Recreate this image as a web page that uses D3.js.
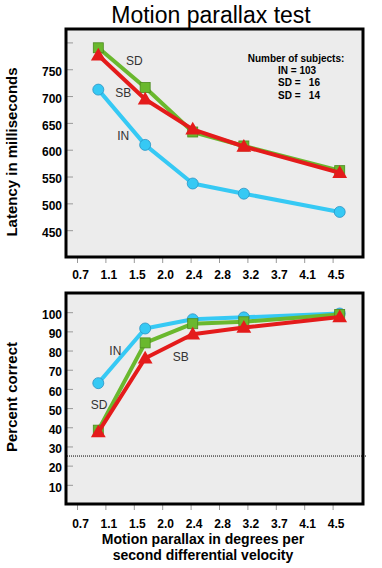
<!DOCTYPE html>
<html>
<head>
<meta charset="utf-8">
<script src="https://cdn.jsdelivr.net/npm/d3@7"></script>
<style>
  body { margin: 0; background: #fff; }
  svg { display: block; font-family: "Liberation Sans", Arial, sans-serif; }
</style>
</head>
<body>
<div id="chart"></div>
<script>
// velocity (deg/s) tick labels, evenly spaced on the axis
var velocityTicks = [0.7, 1.1, 1.5, 2.0, 2.4, 2.8, 3.2, 3.7, 4.1, 4.5];
var velocities = [1.0, 1.7, 2.43, 3.15, 4.6];

// latency in ms
var latencyIN = [712, 609, 537, 518, 484];
var latencySD = [790, 716, 633, 607, 561];
var latencySB = [776, 694, 638, 606, 557];
var latencyTicks = [450, 500, 550, 600, 650, 700, 750, 800];
var latencyLabeled = [450, 500, 550, 600, 650, 700, 750];

// percent correct
var correctIN = [63, 91.5, 96.3, 97.3, 99.3];
var correctSD = [38.5, 84, 94, 95, 98.8];
var correctSB = [37.5, 76, 88.5, 92, 97.5];
var correctTicks = [10, 20, 30, 40, 50, 60, 70, 80, 90, 100];
var chanceLevel = 25;

var subjectLines = ["IN = 103", "SD =   16", "SD =   14"];

// series label anchors, in data units [velocity, value]
var topLabels = [["SD", 1.51, 757], ["SB", 1.35, 699], ["IN", 1.35, 618]];
var bottomLabels = [["IN", 1.24, 77.7], ["SB", 2.26, 74.5], ["SD", 1.01, 49.5]];

var colors = {IN: "#36c9f4", SD: "#6ab82e", SB: "#e41b1b"};

var width = 382, height = 568;
var left = 66, right = 363;

var svg = d3.select("#chart").append("svg")
    .attr("width", width)
    .attr("height", height);

svg.append("text")
    .attr("x", 211).attr("y", 23)
    .attr("text-anchor", "middle")
    .attr("font-size", 23)
    .text("Motion parallax test");

var x = d3.scaleLinear()
    .domain(velocityTicks)
    .range(velocityTicks.map(function(d, i) { return 77 + i * 28.4; }));

function panel(top, bottom, yDomain, yTickVals, yLabeled, series, labels, pad) {
  var y = d3.scaleLinear().domain(yDomain).range([bottom, top]);
  var g = svg.append("g");

  g.append("rect")
      .attr("x", left).attr("y", top)
      .attr("width", right - left).attr("height", bottom - top)
      .attr("fill", "#ececec");

  // y axis, ticks point inward
  var yAxis = g.append("g")
      .attr("transform", "translate(" + left + ",0)")
      .call(d3.axisLeft(y)
        .tickValues(yTickVals)
        .tickSizeInner(-7).tickSizeOuter(0).tickPadding(4)
        .tickFormat(function(d) { return yLabeled.indexOf(d) >= 0 ? d : ""; }));
  yAxis.select(".domain").remove();
  yAxis.selectAll(".tick line").attr("stroke", "#999");
  yAxis.selectAll(".tick text")
      .attr("font-size", 12).attr("font-weight", "bold")
      .attr("font-family", "Liberation Sans, Arial, sans-serif")
      .attr("fill", "#000").attr("dy", "0.52em");

  var xAxis = g.append("g")
      .attr("transform", "translate(0," + bottom + ")")
      .call(d3.axisBottom(x)
        .tickValues(velocityTicks)
        .tickSizeInner(6).tickSizeOuter(0).tickPadding(pad)
        .tickFormat(d3.format(".1f")));
  xAxis.select(".domain").remove();
  xAxis.selectAll(".tick line").attr("stroke", "#999");
  xAxis.selectAll(".tick text")
      .attr("font-size", 12).attr("font-weight", "bold")
      .attr("font-family", "Liberation Sans, Arial, sans-serif")
      .attr("fill", "#000").attr("x", 3);

  var line = d3.line()
      .x(function(d, i) { return x(velocities[i]); })
      .y(function(d) { return y(d); });

  series.forEach(function(s) {
    g.append("path")
        .datum(s.values)
        .attr("d", line)
        .attr("fill", "none")
        .attr("stroke", colors[s.key])
        .attr("stroke-width", 4)
        .attr("stroke-linejoin", "round");

    var pts = g.selectAll(".pt-" + s.key)
        .data(s.values).enter();
    if (s.key === "IN") {
      pts.append("circle")
          .attr("cx", function(d, i) { return x(velocities[i]); })
          .attr("cy", function(d) { return y(d); })
          .attr("r", 5.5)
          .attr("fill", colors.IN)
          .attr("stroke", "#2b93c4").attr("stroke-width", 0.8);
    } else if (s.key === "SD") {
      pts.append("rect")
          .attr("x", function(d, i) { return x(velocities[i]) - 5; })
          .attr("y", function(d) { return y(d) - 5; })
          .attr("width", 10).attr("height", 10)
          .attr("fill", colors.SD)
          .attr("stroke", "#4c8a1f").attr("stroke-width", 0.8);
    } else {
      var tri = d3.symbol().type(d3.symbolTriangle).size(95);
      pts.append("path")
          .attr("d", tri)
          .attr("transform", function(d, i) {
            return "translate(" + x(velocities[i]) + "," + (y(d) + 1) + ")";
          })
          .attr("fill", colors.SB);
    }
  });

  labels.forEach(function(l) {
    g.append("text")
        .attr("x", x(l[1])).attr("y", y(l[2]))
        .attr("text-anchor", "middle")
        .attr("font-size", 12)
        .attr("fill", "#333")
        .text(l[0]);
  });

  g.append("rect")
      .attr("x", left).attr("y", top)
      .attr("width", right - left).attr("height", bottom - top)
      .attr("fill", "none")
      .attr("stroke", "#000").attr("stroke-width", 3);

  return {g: g, y: y};
}

var topPanel = panel(29, 257, [400, 825], latencyTicks, latencyLabeled, [
  {key: "IN", values: latencyIN},
  {key: "SD", values: latencySD},
  {key: "SB", values: latencySB}
], topLabels, 7.5);

var legend = topPanel.g.append("g")
    .attr("font-size", 10).attr("font-weight", "bold");
legend.append("text")
    .attr("x", 296).attr("y", 61.5)
    .attr("text-anchor", "middle")
    .text("Number of subjects:");
legend.selectAll(".sub")
    .data(subjectLines).enter().append("text")
    .attr("x", 278)
    .attr("y", function(d, i) { return 73.8 + i * 12.4; })
    .style("white-space", "pre")
    .text(function(d) { return d; });

var bottomPanel = panel(293, 504, [0, 110], correctTicks, correctTicks, [
  {key: "IN", values: correctIN},
  {key: "SD", values: correctSD},
  {key: "SB", values: correctSB}
], bottomLabels, 9.5);

bottomPanel.g.append("line")
    .attr("x1", left + 1).attr("x2", right + 4)
    .attr("y1", bottomPanel.y(chanceLevel)).attr("y2", bottomPanel.y(chanceLevel))
    .attr("stroke", "#000").attr("stroke-width", 1)
    .attr("stroke-dasharray", "1,1");

// axis titles
svg.append("text")
    .attr("transform", "translate(17,152) rotate(-90)")
    .attr("text-anchor", "middle")
    .attr("font-size", 15).attr("font-weight", "bold")
    .text("Latency in milliseconds");

svg.append("text")
    .attr("transform", "translate(17,397) rotate(-90)")
    .attr("text-anchor", "middle")
    .attr("font-size", 15).attr("font-weight", "bold")
    .text("Percent correct");

svg.append("text")
    .attr("x", 203).attr("y", 544)
    .attr("text-anchor", "middle")
    .attr("font-size", 14).attr("font-weight", "bold")
    .text("Motion parallax in degrees per");
svg.append("text")
    .attr("x", 203).attr("y", 560)
    .attr("text-anchor", "middle")
    .attr("font-size", 14).attr("font-weight", "bold")
    .text("second differential velocity");
</script>
</body>
</html>
